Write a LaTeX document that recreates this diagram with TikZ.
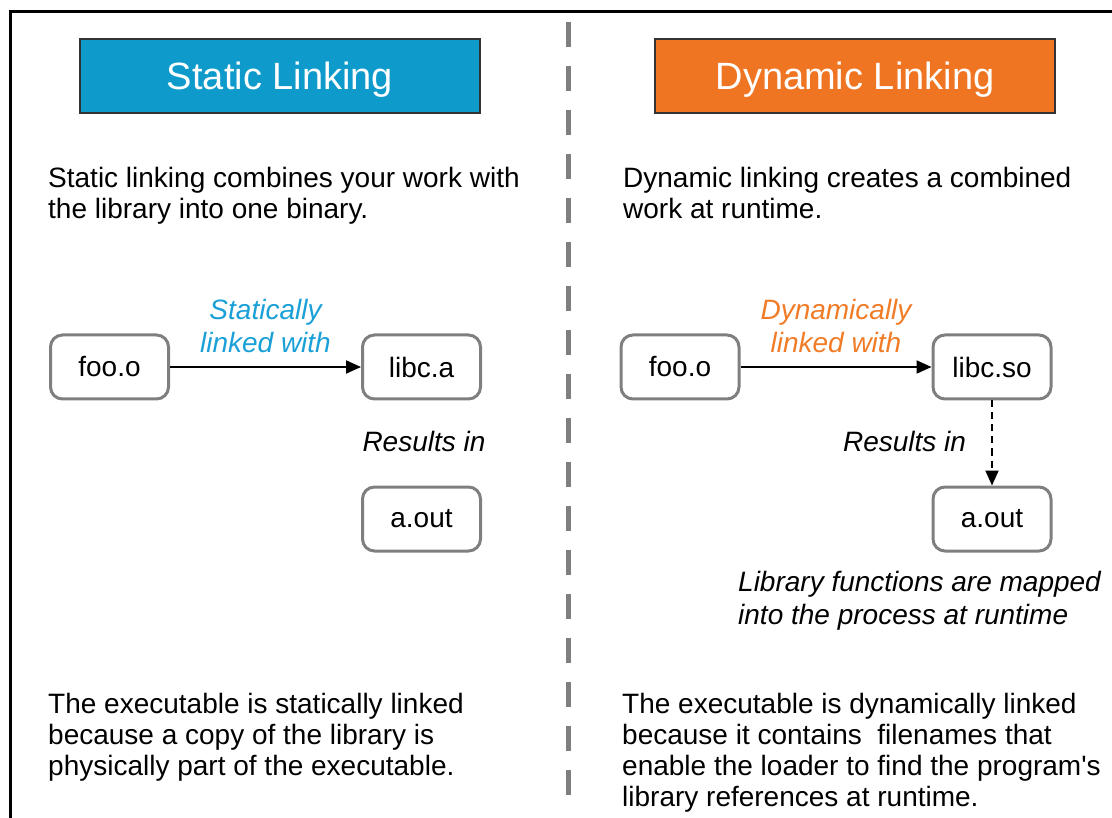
\documentclass[tikz,border=0pt]{standalone}
\usepackage{fontspec}
\setmainfont{Liberation Sans}
\usetikzlibrary{positioning,arrows.meta}

\definecolor{staticblue}{HTML}{0E9BCC}
\definecolor{dynamicorange}{HTML}{F07522}
\definecolor{noteblue}{HTML}{1AA0D6}
\definecolor{noteorange}{HTML}{F07C28}
\definecolor{boxgray}{HTML}{7F7F7F}

\begin{document}
\begin{tikzpicture}[x=1pt, y=-1pt,
    every node/.style={font=\fontsize{28}{31}\selectfont, inner sep=0pt},
    title/.style={draw=black!80, line width=1.5pt, minimum width=400pt, minimum height=74pt, text depth=0pt, text=white, font=\fontsize{38}{40}\selectfont},
    filebox/.style={draw=boxgray, line width=3pt, rounded corners=12pt, minimum width=118pt, minimum height=64pt},
    para/.style={anchor=north west, align=left},
    note/.style={font=\fontsize{28}{33}\selectfont\itshape, align=center},
    link/.style={line width=2pt, -{Triangle[length=15pt, width=13pt]}}]
    \useasboundingbox (0,0) rectangle (1112,818);
    \draw[line width=3pt] (1112,12) -- (10,12) -- (10,818);
    \draw[boxgray, line width=5pt, dash pattern=on 25pt off 19pt] (568,22) -- (568,812);

    \node[title, fill=staticblue] (static) at (280,76) {Static Linking};
    \node[title, fill=dynamicorange] (dynamic) at (855,76) {Dynamic Linking};

    \node[para] (introS) at (48,167) {Static linking combines your work with\\the library into one binary.};
    \node[para] (introD) at (623,167) {Dynamic linking creates a combined\\work at runtime.};

    \node[filebox] (fooS) at (109.5,367) {foo.o};
    \node[filebox, right=191pt of fooS] (libcS) {libc.a};
    \node[filebox, below=85pt of libcS] (aoutS) {a.out};
    \draw[link] (fooS) -- node[note, text=noteblue, above=13pt] {Statically\\linked with} (libcS);
    \node[note] (resultS) at (424,441) {Results in};

    \node[filebox] (fooD) at (680,367) {foo.o};
    \node[filebox, right=191pt of fooD] (libcD) {libc.so};
    \node[filebox, below=85pt of libcD] (aoutD) {a.out};
    \draw[link] (fooD) -- node[note, text=noteorange, above=13pt] {Dynamically\\linked with} (libcD);
    \draw[link, dash pattern=on 7pt off 5pt] (libcD) -- node[note, left=25pt, yshift=2pt] {Results in} (aoutD);
    \node[note, align=left, anchor=north west] (mapped) at (738,571) {Library functions are mapped\\into the process at runtime};

    \node[para] (outroS) at (48,693) {The executable is statically linked\\because a copy of the library is\\physically part of the executable.};
    \node[para] (outroD) at (622,693) {The executable is dynamically linked\\because it contains~ filenames that\\enable the loader to find the program\textquotesingle s\\library references at runtime.};
\end{tikzpicture}
\end{document}
